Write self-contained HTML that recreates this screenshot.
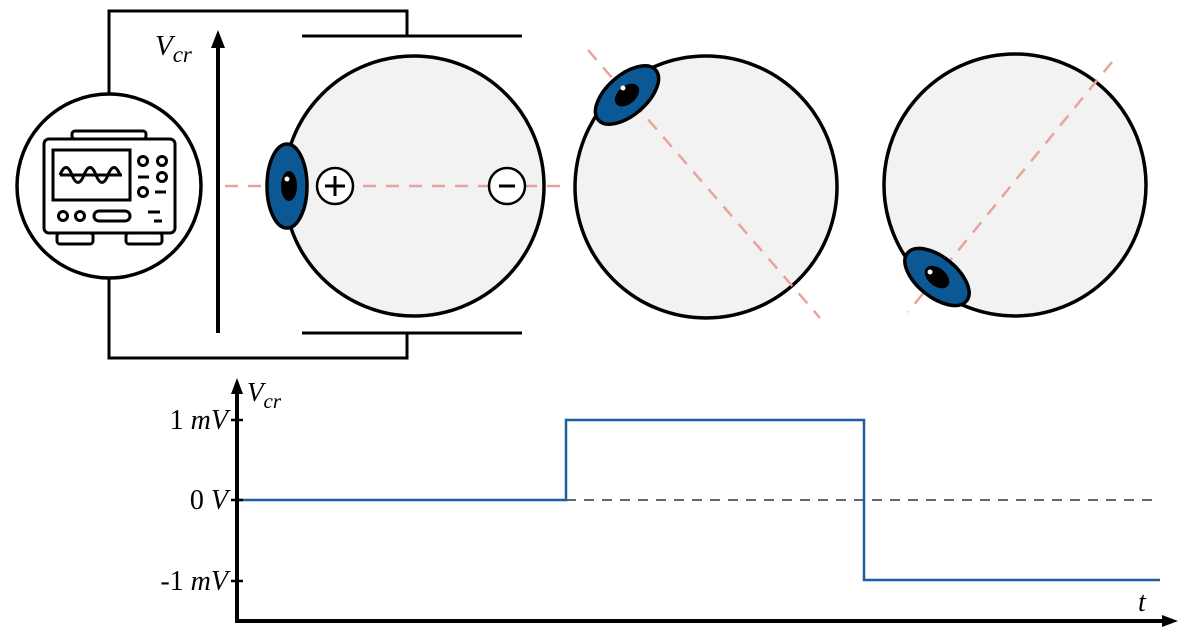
<!DOCTYPE html>
<html><head><style>html,body{margin:0;padding:0;background:#fff}svg{display:block}</style></head><body>
<svg width="1200" height="637" viewBox="0 0 1200 637" xmlns="http://www.w3.org/2000/svg" font-family="Liberation Serif, serif">
<!-- wires -->
<g fill="none" stroke="#000" stroke-width="3">
<polyline points="109,94 109,11 407,11 407,36"/>
<line x1="302" y1="36" x2="522" y2="36"/>
<polyline points="109,278 109,358 407,358 407,333"/>
<line x1="302" y1="333" x2="522" y2="333"/>
</g>
<!-- Vcr arrow -->
<line x1="218" y1="333" x2="218" y2="44" stroke="#000" stroke-width="4"/>
<path d="M218,30 L211,48 L225,48 Z" fill="#000"/>
<text x="155" y="55" font-size="29" font-style="italic">V<tspan font-size="23" dy="7">cr</tspan></text>
<!-- oscilloscope -->
<circle cx="109" cy="186" r="92" fill="#fff" stroke="#000" stroke-width="3.5"/>
<g fill="none" stroke="#000" stroke-width="3">
<rect x="72" y="131" width="74" height="8" rx="3"/>
<rect x="44" y="139" width="131" height="94" rx="5"/>
<rect x="53" y="150" width="77" height="50"/>
<path d="M60,175 Q66,160 72,175 T84,175 T96,175 T108,175 T120,175"/>
<line x1="60" y1="175" x2="122" y2="175"/>
<circle cx="143" cy="161" r="4.5"/><circle cx="162" cy="161" r="4.5"/>
<circle cx="162" cy="177" r="4.5"/><circle cx="143" cy="192" r="4.5"/>
<line x1="138" y1="177" x2="149" y2="177"/><line x1="155" y1="192" x2="166" y2="192"/>
<circle cx="63" cy="216" r="4.5"/><circle cx="80" cy="216" r="4.5"/>
<rect x="94" y="211" width="36" height="10" rx="5"/>
<line x1="148" y1="212" x2="160" y2="212"/><line x1="154" y1="221" x2="162" y2="221"/>
<rect x="57" y="233" width="36" height="11" rx="3"/><rect x="126" y="233" width="36" height="11" rx="3"/>
</g>
<!-- eye 1 -->
<circle cx="414" cy="186" r="130" fill="#f2f2f2" stroke="#000" stroke-width="3.5"/>
<line x1="225" y1="186" x2="562" y2="186" stroke="#e8a39b" stroke-width="2.5" stroke-dasharray="13,10"/>
<ellipse cx="287" cy="186" rx="20" ry="42" fill="#0b5894" stroke="#000" stroke-width="3.5"/>
<ellipse cx="289" cy="186" rx="8" ry="15" fill="#000"/>
<circle cx="287" cy="179" r="2.5" fill="#fff"/>
<circle cx="335" cy="186" r="18" fill="#fff" stroke="#000" stroke-width="2.5"/>
<path d="M325,186 H345 M335,176 V196" stroke="#000" stroke-width="3"/>
<circle cx="507" cy="186" r="18" fill="#fff" stroke="#000" stroke-width="2.5"/>
<path d="M499,186 H515" stroke="#000" stroke-width="3"/>
<!-- eye 2 -->
<circle cx="706" cy="187" r="131" fill="#f2f2f2" stroke="#000" stroke-width="3.5"/>
<line x1="588" y1="50" x2="820" y2="318" stroke="#e8a39b" stroke-width="2.5" stroke-dasharray="13,10"/>
<g transform="translate(627,95) rotate(49)">
<ellipse cx="0" cy="0" rx="20" ry="38" fill="#0b5894" stroke="#000" stroke-width="3.5"/>
<ellipse cx="0" cy="0" rx="9" ry="14" fill="#000"/>
</g>
<circle cx="623" cy="88" r="2.5" fill="#fff"/>
<!-- eye 3 -->
<circle cx="1015" cy="185" r="131" fill="#f2f2f2" stroke="#000" stroke-width="3.5"/>
<line x1="1112" y1="62" x2="908" y2="312" stroke="#e8a39b" stroke-width="2.5" stroke-dasharray="13,10"/>
<g transform="translate(937,277) rotate(-51)">
<ellipse cx="0" cy="0" rx="20" ry="38" fill="#0b5894" stroke="#000" stroke-width="3.5"/>
<ellipse cx="0" cy="0" rx="9" ry="14" fill="#000"/>
</g>
<circle cx="930" cy="272" r="2.5" fill="#fff"/>
<!-- graph -->
<line x1="566" y1="500" x2="1160" y2="500" stroke="#666" stroke-width="2" stroke-dasharray="10,8"/>
<polyline points="237,500 566,500 566,420 864,420 864,580 1160,580" fill="none" stroke="#1f5fa0" stroke-width="2.5"/>
<line x1="237" y1="622" x2="237" y2="392" stroke="#000" stroke-width="4"/>
<path d="M237,378 L231,394 L243,394 Z" fill="#000"/>
<line x1="235" y1="621" x2="1164" y2="621" stroke="#000" stroke-width="4"/>
<path d="M1178,621 L1162,615 L1162,627 Z" fill="#000"/>
<g stroke="#000" stroke-width="2.5"><line x1="231" y1="420" x2="243" y2="420"/><line x1="231" y1="500" x2="243" y2="500"/><line x1="231" y1="581" x2="243" y2="581"/></g>
<g font-size="28" text-anchor="end">
<text x="228" y="429">1 <tspan font-style="italic">mV</tspan></text>
<text x="228" y="509">0 <tspan font-style="italic">V</tspan></text>
<text x="228" y="590">-1 <tspan font-style="italic">mV</tspan></text>
</g>
<text x="247" y="401" font-size="27" font-style="italic">V<tspan font-size="21" dy="7">cr</tspan></text>
<text x="1138" y="611" font-size="28" font-style="italic">t</text>
</svg>
</body></html>
